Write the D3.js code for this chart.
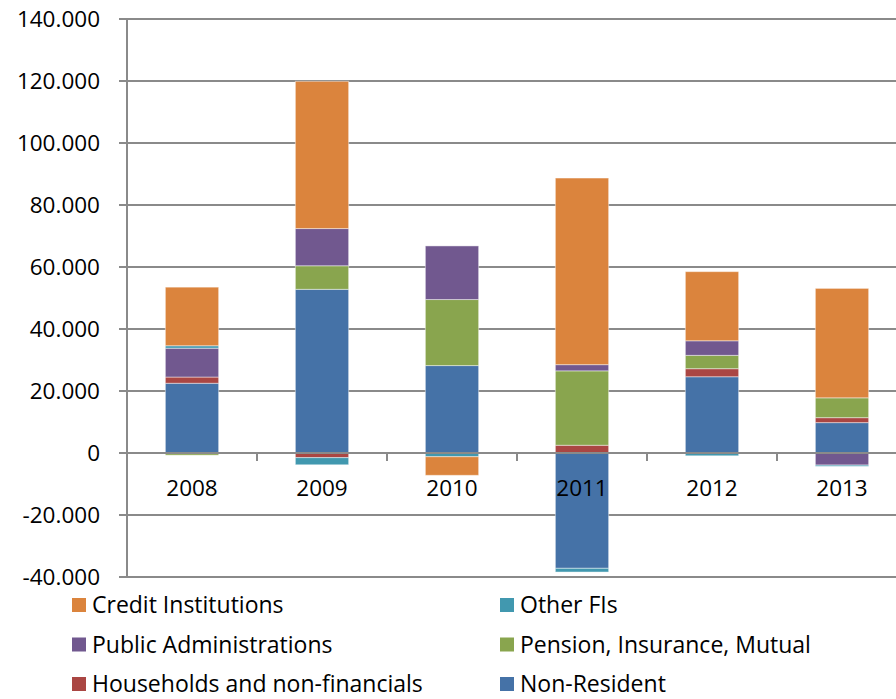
<!DOCTYPE html>
<html><head><meta charset="utf-8">
<script src="https://cdn.jsdelivr.net/npm/d3@7/dist/d3.min.js"></script>
<style>body{margin:0;background:#fff;} svg{display:block;font-family:"Open Sans",sans-serif;}</style>
</head><body><svg id="chart" width="896" height="699"></svg>
<script>
const years = ['2008','2009','2010','2011','2012','2013'];
const seriesNames = ['Non-Resident','Households and non-financials','Pension, Insurance, Mutual','Public Administrations','Other FIs','Credit Institutions'];
const nonResident = [22500, 52800, 28200, -37200, 24600, 9800];
const households  = [2000, -1500, 0, 2500, 2600, 1600];
const pension     = [-700, 7600, 21300, 24000, 4300, 6400];
const publicAdmin = [9300, 12000, 17300, 2000, 4700, -3900];
const otherFIs    = [800, -2300, -1200, -1200, -900, -400];
const credit      = [18900, 47500, -6000, 60200, 22300, 35300];
const yTicks = [-40000,-20000,0,20000,40000,60000,80000,100000,120000,140000];
const yTickLabels = ['-40.000','-20.000','0','20.000','40.000','60.000','80.000','100.000','120.000','140.000'];
const legendOrder = ['Credit Institutions','Other FIs','Public Administrations','Pension, Insurance, Mutual','Households and non-financials','Non-Resident'];
const colors = {'Non-Resident':'#4572A7','Households and non-financials':'#AA4643','Pension, Insurance, Mutual':'#89A54E','Public Administrations':'#71588F','Other FIs':'#4198AF','Credit Institutions':'#DB843D'};

const seriesValues = [nonResident, households, pension, publicAdmin, otherFIs, credit];
const table = years.map((y,i)=>{const o={year:y}; seriesNames.forEach((s,j)=>o[s]=seriesValues[j][i]); return o;});

const svg = d3.select('#chart');
const x = d3.scaleBand().domain(years).range([127, 907]).paddingInner(0.59).paddingOuter(0.295);
const y = d3.scaleLinear().domain([-40000, 140000]).range([577, 19]);
const gridColor = '#8a8a8a';

// gridlines
svg.append('g').selectAll('line').data(yTicks).join('line')
  .attr('x1', 119).attr('x2', 907)
  .attr('y1', d=>y(d)).attr('y2', d=>y(d))
  .attr('stroke', gridColor).attr('stroke-width', 2);

// y axis line
svg.append('line').attr('x1',127).attr('x2',127).attr('y1',y(140000)).attr('y2',y(-40000)).attr('stroke',gridColor).attr('stroke-width',2);

// y labels
svg.append('g').selectAll('text').data(yTicks).join('text')
  .attr('x', 100).attr('y', d=>y(d)).attr('dy','0.35em')
  .attr('text-anchor','end').attr('font-size', 22.5).attr('fill','#000')
  .text((d,i)=>yTickLabels[i]);

// stacked bars
const stack = d3.stack().keys(seriesNames).offset(d3.stackOffsetDiverging);
const layers = stack(table);
svg.append('g').selectAll('g').data(layers).join('g')
  .attr('fill', d=>colors[d.key])
  .selectAll('rect').data(d=>d).join('rect')
  .attr('x', d=>x(d.data.year))
  .attr('width', x.bandwidth())
  .attr('y', d=>y(Math.max(d[0],d[1])))
  .attr('height', d=>Math.abs(y(d[0])-y(d[1])))
  .attr('stroke','rgba(255,255,255,0.45)').attr('stroke-width',1);

// x axis line at zero (over bars)
svg.append('line').attr('x1',127).attr('x2',907).attr('y1',y(0)).attr('y2',y(0)).attr('stroke',gridColor).attr('stroke-width',2);
// category ticks
const bounds = years.slice(1).map(yy=>x(yy) - x.step()*x.paddingInner()/2);
svg.append('g').selectAll('line').data(bounds).join('line')
  .attr('x1',d=>d).attr('x2',d=>d).attr('y1',y(0)).attr('y2',y(0)+8)
  .attr('stroke',gridColor).attr('stroke-width',2);

// category labels
svg.append('g').selectAll('text').data(years).join('text')
  .attr('x', d=>x(d)+x.bandwidth()/2).attr('y', y(0)+43)
  .attr('text-anchor','middle').attr('font-size',22.5).attr('fill','#000')
  .text(d=>d);

// legend
const lg = svg.append('g');
legendOrder.forEach((name,i)=>{
  const col = i%2, row = Math.floor(i/2);
  const gx = col===0 ? 72 : 500;
  const gy = 605 + row*39.5;
  lg.append('rect').attr('x',gx).attr('y',gy-7).attr('width',14).attr('height',14).attr('fill',colors[name]);
  lg.append('text').attr('x',gx+20).attr('y',gy).attr('dy','0.35em').attr('font-size',23).attr('fill','#000').text(name);
});
</script></body></html>
